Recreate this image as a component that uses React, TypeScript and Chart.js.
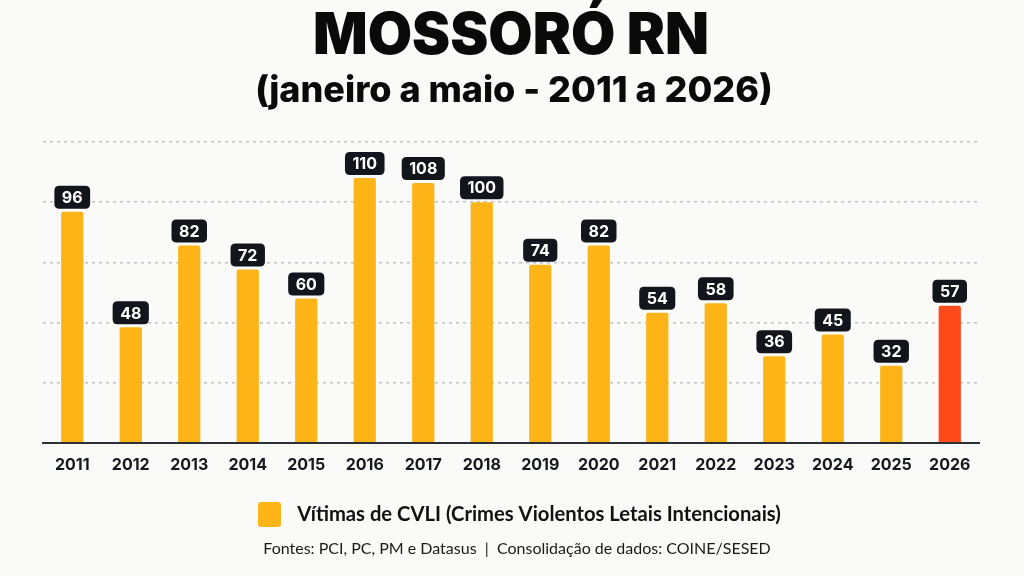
import { useEffect, useRef } from "react";
import { Chart, registerables } from "chart.js";

Chart.register(...registerables);

// Series data
const years = ["2011", "2012", "2013", "2014", "2015", "2016", "2017", "2018", "2019", "2020", "2021", "2022", "2023", "2024", "2025", "2026"];
const victims = [96, 48, 82, 72, 60, 110, 108, 100, 74, 82, 54, 58, 36, 45, 32, 57];
const highlightYear = "2026";

// Axis
const yMax = 125;
const yStep = 25;

// Text
const titleText = "MOSSORÓ RN";
const subtitleText = "(janeiro a maio - 2011 a 2026)";
const seriesLabel = "Vítimas de CVLI (Crimes Violentos Letais Intencionais)";
const sourceText = "Fontes: PCI, PC, PM e Datasus  |  Consolidação de dados: COINE/SESED";

const BAR_COLOR = "#FCB417";
const HIGHLIGHT_COLOR = "#FF4B1A";
const INK = "#12151c";
const BG = "#fafaf8";

// Draw text fitted to a target width
function fitText(ctx: CanvasRenderingContext2D, text: string, cx: number, cy: number, weight: string, family: string, width: number, baseSize: number) {
  ctx.font = `${weight} ${baseSize}px ${family}`;
  const w = ctx.measureText(text).width;
  const size = baseSize * (width / w);
  ctx.font = `${weight} ${size}px ${family}`;
  ctx.textAlign = "center";
  ctx.textBaseline = "middle";
  ctx.fillText(text, cx, cy);
}

function roundRect(ctx: CanvasRenderingContext2D, x: number, y: number, w: number, h: number, r: number) {
  ctx.beginPath();
  ctx.moveTo(x + r, y);
  ctx.lineTo(x + w - r, y);
  ctx.quadraticCurveTo(x + w, y, x + w, y + r);
  ctx.lineTo(x + w, y + h - r);
  ctx.quadraticCurveTo(x + w, y + h, x + w - r, y + h);
  ctx.lineTo(x + r, y + h);
  ctx.quadraticCurveTo(x, y + h, x, y + h - r);
  ctx.lineTo(x, y + r);
  ctx.quadraticCurveTo(x, y, x + r, y);
  ctx.closePath();
}

const decorPlugin = {
  id: "decor",
  beforeDraw(chart: Chart) {
    const ctx = chart.ctx;
    ctx.save();
    ctx.fillStyle = BG;
    ctx.fillRect(0, 0, chart.width, chart.height);
    ctx.restore();
  },
  afterDatasetsDraw(chart: Chart) {
    const ctx = chart.ctx;
    ctx.save();
    // value badges above bars
    const meta = chart.getDatasetMeta(0);
    meta.data.forEach((el: any, i: number) => {
      const text = String(victims[i]);
      ctx.font = "700 16px Inter";
      const tw = ctx.measureText(text).width;
      const bw = tw + 15;
      const bh = 23;
      const bx = el.x - bw / 2;
      const by = el.y - 3 - bh;
      ctx.fillStyle = INK;
      roundRect(ctx, bx, by, bw, bh, 5);
      ctx.fill();
      ctx.fillStyle = "#ffffff";
      ctx.textAlign = "center";
      ctx.textBaseline = "middle";
      ctx.fillText(text, el.x, by + bh / 2 + 1);
    });
    ctx.restore();
  },
  afterDraw(chart: Chart) {
    const ctx = chart.ctx;
    ctx.save();
    ctx.fillStyle = "#0a0a0a";
    fitText(ctx, titleText, 511, 37, "900", "Inter", 396, 56);
    fitText(ctx, subtitleText, 514, 91, "800", "Inter", 518, 30);

    // legend
    ctx.fillStyle = BAR_COLOR;
    roundRect(ctx, 258, 502, 23, 25, 3);
    ctx.fill();
    ctx.fillStyle = "#111111";
    fitText(ctx, seriesLabel, 539, 514, "700", "Lato", 484, 18);

    // source line
    ctx.fillStyle = "#1a1a1a";
    fitText(ctx, sourceText, 517, 549, "400", "Lato", 508, 15);
    ctx.restore();
  },
};

export default function App() {
  const canvasRef = useRef<HTMLCanvasElement | null>(null);

  useEffect(() => {
    document.body.style.margin = "0";
    const canvas = canvasRef.current;
    if (!canvas) return;
    const chart = new Chart(canvas, {
      type: "bar",
      data: {
        labels: years,
        datasets: [
          {
            label: seriesLabel,
            data: victims,
            backgroundColor: years.map((y) => (y === highlightYear ? HIGHLIGHT_COLOR : BAR_COLOR)),
            borderRadius: { topLeft: 2, topRight: 2, bottomLeft: 0, bottomRight: 0 },
            borderSkipped: "bottom",
            categoryPercentage: 0.76,
            barPercentage: 0.5,
          },
        ],
      },
      options: {
        responsive: false,
        animation: false,
        layout: { padding: { top: 142, left: 43, right: 45, bottom: 96 } },
        plugins: {
          legend: { display: false },
          title: { display: false },
          tooltip: { enabled: false },
        },
        scales: {
          x: {
            grid: { display: false },
            border: { display: true, color: "#2b3038", width: 2 },
            ticks: {
              color: "#15181f",
              font: { family: "Inter", size: 16, weight: "bold" },
              padding: 5,
            },
          },
          y: {
            min: 0,
            max: yMax,
            ticks: { display: false, stepSize: yStep },
            grid: {
              color: "#bcc2c7",
              lineWidth: 1.5,
              drawTicks: false,
            },
            border: { display: false, dash: [3, 4] },
          },
        },
      },
      plugins: [decorPlugin],
    });
    return () => chart.destroy();
  }, []);

  return (
    <div style={{ width: 1024, height: 576, background: BG }}>
      <canvas ref={canvasRef} width={1024} height={576} style={{ display: "block" }} />
    </div>
  );
}
